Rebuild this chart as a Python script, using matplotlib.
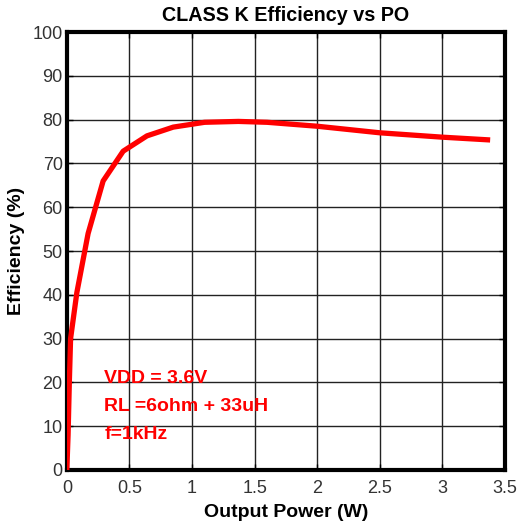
import numpy as np
import matplotlib
matplotlib.use("Agg")
import matplotlib.pyplot as plt

plt.rcParams['font.family'] = ['Liberation Sans', 'DejaVu Sans']

# output power (W) and efficiency (%)
po = [0.0, 0.01, 0.02, 0.03, 0.08, 0.17, 0.29, 0.45, 0.64, 0.85, 1.1, 1.37,
      1.6, 2.0, 2.5, 3.0, 3.36]
eff = [0.0, 8.0, 20.0, 30.0, 40.5, 54.0, 66.0, 72.8, 76.3, 78.3, 79.4, 79.6,
       79.4, 78.5, 77.0, 76.0, 75.4]

xticks = [0, 0.5, 1, 1.5, 2, 2.5, 3, 3.5]
xticklabels = ['0', '0.5', '1', '1.5', '2', '2.5', '3', '3.5']
yticks = list(range(0, 101, 10))

notes = ['VDD = 3.6V', 'RL =6ohm + 33uH', 'f=1kHz']
note_y = [21, 14.6, 8]

fig = plt.figure(figsize=(5.18, 5.26), dpi=100)
ax = fig.add_axes([0.129, 0.1065, 0.846, 0.8325])

ax.plot(po, eff, color='#ff0000', lw=3.8, solid_joinstyle='round', zorder=3)

ax.set_xlim(0, 3.5)
ax.set_ylim(0, 100)
ax.set_xticks(xticks)
ax.set_xticklabels(xticklabels)
ax.set_yticks(yticks)
ax.grid(True, color='#222222', lw=1.0)
ax.tick_params(axis='both', direction='in', length=4, width=1, labelsize=13,
               labelcolor='#333333', right=True, top=True)
ax.tick_params(axis='x', pad=7)
ax.tick_params(axis='y', pad=3)
for s in ax.spines.values():
    s.set_linewidth(3)
    s.set_color('black')

for t, y in zip(notes, note_y):
    ax.text(0.3, y, t, color='#ff0000', fontsize=14, fontweight='bold',
            va='center', ha='left')

ax.set_title('CLASS K Efficiency vs PO', fontsize=14.2, fontweight='bold', pad=8)
ax.set_xlabel('Output Power (W)', fontsize=14, fontweight='bold', labelpad=5)
ax.set_ylabel('Efficiency (%)', fontsize=14, fontweight='bold', labelpad=5)

fig.savefig('out.png', dpi=100)
